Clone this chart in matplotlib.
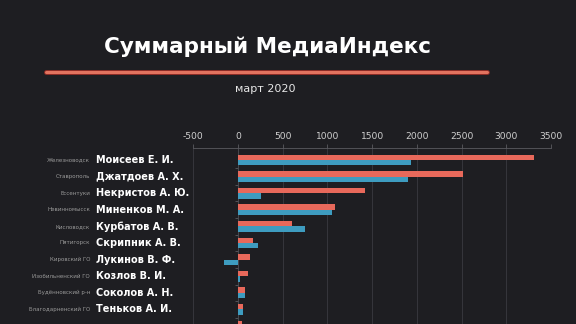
import matplotlib
matplotlib.use("Agg")
import matplotlib.pyplot as plt
import matplotlib.transforms as mtransforms
import numpy as np

# Data
names = ["Моисеев Е. И.", "Джатдоев А. Х.", "Некристов А. Ю.", "Миненков М. А.",
         "Курбатов А. В.", "Скрипник А. В.", "Лукинов В. Ф.", "Козлов В. И.",
         "Соколов А. Н.", "Теньков А. И.", ""]
cities = ["Железноводск", "Ставрополь", "Ессентуки", "Невинномысск",
          "Кисловодск", "Пятигорск", "Кировский ГО", "Изобильненский ГО",
          "Будённовский р-н", "Благодарненский ГО", ""]
red_values = [3314, 2518, 1424, 1087, 601, 172, 138, 108, 82, 56, 50]
blue_values = [1939, 1901, 254, 1054, 747, 220, -154, 26, 82, 56, 30]
x_ticks = [-500, 0, 500, 1000, 1500, 2000, 2500, 3000, 3500]

BG = "#1e1e22"
RED = "#e8695b"
BLUE = "#3e9cc0"
W, H = 576, 324

fig = plt.figure(figsize=(W / 100, H / 100), dpi=100, facecolor=BG)

# Axes geometry in pixels
x0_px, x1_px = 193.3, 551.0
top_px = 148.0
row_px = 16.6
first_center_px = 160.0
n = len(names)
ylim_top = -(first_center_px - top_px) / row_px
ylim_bot = n - 0.5
bottom_px = top_px + (ylim_bot - ylim_top) * row_px

ax = fig.add_axes([x0_px / W, 1 - bottom_px / H, (x1_px - x0_px) / W,
                   (bottom_px - top_px) / H])
ax.set_facecolor(BG)

y = np.arange(n)
bh = 0.32
ax.barh(y - bh / 2, red_values, height=bh, color=RED, zorder=3)
ax.barh(y + bh / 2, blue_values, height=bh, color=BLUE, zorder=3)

ax.set_xlim(x_ticks[0], x_ticks[-1])
ax.set_ylim(ylim_bot, ylim_top)

ax.xaxis.tick_top()
ax.set_xticks(x_ticks)
ax.set_xticklabels([str(t) for t in x_ticks])
ax.tick_params(axis="x", colors="#5a5a60", labelcolor="#d0d0d0",
               labelsize=6.6, length=3, width=0.6, pad=2)
ax.grid(axis="x", color="#3a3a40", linewidth=0.6, zorder=0)

# Category boundaries as small ticks on the zero line
ax.set_yticks(np.arange(n) + 0.5)
ax.set_yticklabels([])
ax.tick_params(axis="y", colors="#5a5a60", length=2, width=0.6)
ax.spines["left"].set_position(("data", 0))
ax.spines["left"].set_color("#4a4a50")
ax.spines["left"].set_linewidth(0.6)
ax.spines["left"].set_zorder(2)
ax.spines["top"].set_color("#5a5a60")
ax.spines["top"].set_linewidth(0.6)
for s in ("right", "bottom"):
    ax.spines[s].set_visible(False)

# Row labels: x in figure coordinates, y in data units
trans = mtransforms.blended_transform_factory(fig.transFigure, ax.transData)
for i in range(n):
    fig.text(96.5 / W, i, names[i], transform=trans, ha="left", va="center",
             color="white", fontsize=7.0, fontweight="bold",
             family="DejaVu Sans")
    fig.text(90 / W, i, cities[i], transform=trans, ha="right", va="center",
             color="#9a9a9a", fontsize=4.0, family="DejaVu Sans")

# Title, divider and subtitle
fig.text(268 / W, 1 - 47 / H, "Суммарный МедиаИндекс", ha="center",
         va="center", color="white", fontsize=15.5, fontweight="bold",
         family="DejaVu Sans")
fig.add_artist(plt.Line2D([46 / W, 487 / W], [1 - 71.7 / H, 1 - 71.7 / H],
                          transform=fig.transFigure, color="#8a2a25",
                          linewidth=3.6, solid_capstyle="round"))
fig.add_artist(plt.Line2D([46 / W, 487 / W], [1 - 71.7 / H, 1 - 71.7 / H],
                          transform=fig.transFigure, color="#e2735f",
                          linewidth=2.2, solid_capstyle="round"))
fig.text(265 / W, 1 - 88.5 / H, "март 2020", ha="center", va="center",
         color="#e6e6e6", fontsize=8.0, family="DejaVu Sans")

fig.savefig("out.png", dpi=100, facecolor=BG)
